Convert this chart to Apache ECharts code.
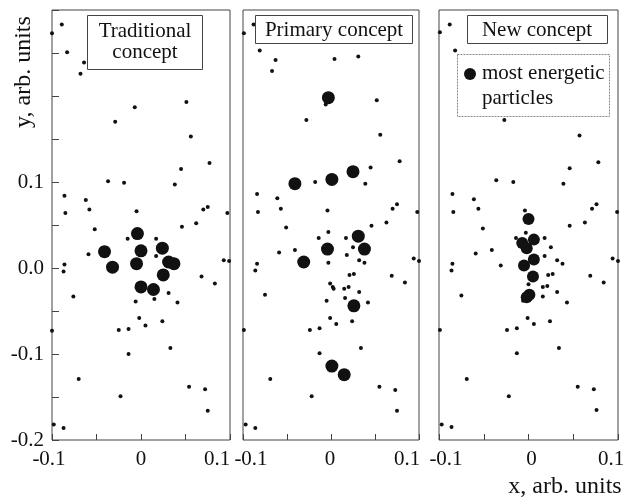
<!DOCTYPE html>
<html>
<head>
<meta charset="utf-8">
<script src="https://cdn.jsdelivr.net/npm/echarts@6/dist/echarts.min.js"></script>
<style>
  html, body { margin: 0; padding: 0; background: #fff; }
  #chart { width: 624px; height: 497px; }
</style>
</head>
<body>
<div id="chart"></div>
<script>
// Panel captions, legend text and axis text
const panelTitles = ['Traditional\nconcept', 'Primary concept', 'New concept'];
const legendLabel = 'most energetic\nparticles';
const xTickLabels = ['-0.1', '0', '0.1'];
const yTickLabels = ['-0.2', '-0.1', '0.0', '0.1'];
const xName = 'x, arb. units';
const yName = 'y, arb. units';

// Particle positions [x, y] — traditional concept
const tradSmall = [
  [-0.100,0.273],[-0.089,0.283],[-0.083,0.251],[-0.064,0.239],[-0.068,0.226],[-0.007,0.187],[0.051,0.193],
  [-0.029,0.170],[0.056,0.153],[0.077,0.122],[0.045,0.115],[-0.037,0.101],[-0.019,0.099],[0.038,0.097],
  [-0.086,0.084],[-0.062,0.079],[-0.085,0.064],[-0.058,0.068],[-0.005,0.066],[0.070,0.068],[0.075,0.071],
  [0.097,0.064],[-0.052,0.045],[0.046,0.048],[0.062,0.052],[-0.015,0.034],[0.017,0.034],[-0.059,0.016],
  [-0.086,0.004],[-0.087,-0.004],[0.017,0.014],[0.093,0.009],[0.099,0.008],[0.068,-0.010],[0.083,-0.018],
  [-0.076,-0.033],[0.031,-0.029],[0.041,-0.040],[0.015,-0.036],[-0.006,-0.039],[-0.002,-0.058],[0.005,-0.067],
  [0.024,-0.062],[-0.025,-0.072],[-0.014,-0.071],[-0.100,-0.073],[-0.014,-0.100],[0.033,-0.093],[-0.070,-0.129],
  [0.054,-0.138],[0.072,-0.141],[-0.023,-0.149],[0.075,-0.166],[-0.098,-0.182],[-0.087,-0.186]
];
const tradBig = [
  [-0.004,0.040],[-0.041,0.019],[0.000,0.020],[0.024,0.023],[-0.032,0.001],[-0.005,0.005],
  [0.031,0.007],[0.037,0.005],[0.025,-0.008],[0.000,-0.022],[0.014,-0.025]
];

// Primary concept
const primarySmall = [
  [-0.099,0.273],[-0.088,0.283],[-0.081,0.253],[-0.063,0.242],[-0.067,0.229],[0.004,0.243],[0.031,0.246],
  [-0.006,0.190],[0.052,0.195],[-0.028,0.172],[0.056,0.155],[0.078,0.124],[0.045,0.117],[-0.018,0.100],
  [0.039,0.098],[-0.084,0.086],[-0.061,0.081],[-0.083,0.065],[-0.057,0.069],[-0.004,0.067],[0.070,0.069],
  [0.075,0.074],[0.098,0.065],[-0.051,0.047],[0.046,0.049],[0.063,0.053],[-0.003,0.042],[-0.014,0.035],
  [0.017,0.035],[0.025,0.024],[-0.041,0.021],[-0.059,0.018],[-0.084,0.005],[-0.086,-0.003],[-0.003,0.006],
  [0.018,0.015],[0.032,0.009],[0.038,0.006],[0.094,0.011],[0.100,0.008],[0.069,-0.009],[0.084,-0.017],
  [0.021,-0.008],[0.026,-0.007],[-0.075,-0.031],[-0.001,-0.018],[0.002,-0.022],[0.003,-0.024],[0.015,-0.024],
  [0.020,-0.022],[0.032,-0.028],[0.016,-0.035],[-0.005,-0.038],[0.042,-0.040],[-0.001,-0.058],[0.006,-0.065],
  [0.024,-0.062],[-0.024,-0.072],[-0.013,-0.070],[-0.099,-0.072],[-0.013,-0.099],[0.034,-0.093],[-0.069,-0.129],
  [0.055,-0.138],[0.073,-0.142],[-0.022,-0.149],[0.075,-0.166],[-0.097,-0.182],[-0.086,-0.186]
];
const primaryBig = [
  [-0.003,0.198],[-0.041,0.098],[0.001,0.103],[0.025,0.112],[0.031,0.037],[-0.004,0.022],
  [0.038,0.022],[-0.031,0.007],[0.026,-0.044],[0.001,-0.114],[0.015,-0.124]
];

// New concept
const newSmall = [
  [-0.099,0.274],[-0.088,0.283],[-0.082,0.253],[-0.027,0.172],[0.057,0.154],[0.078,0.123],[0.046,0.116],
  [-0.036,0.102],[-0.017,0.100],[0.039,0.098],[-0.085,0.086],[-0.061,0.080],[-0.084,0.065],[-0.056,0.069],
  [-0.004,0.067],[0.071,0.069],[0.076,0.074],[0.099,0.065],[-0.051,0.046],[0.046,0.049],[0.063,0.053],
  [-0.003,0.041],[-0.014,0.035],[0.018,0.035],[0.025,0.024],[-0.041,0.021],[-0.059,0.017],[-0.085,0.005],
  [-0.086,-0.003],[-0.031,0.003],[0.018,0.014],[0.032,0.009],[0.038,0.005],[0.094,0.011],[0.100,0.008],
  [0.069,-0.009],[0.084,-0.017],[0.022,-0.008],[0.027,-0.007],[-0.075,-0.032],[0.000,-0.019],[0.016,-0.022],
  [0.021,-0.021],[0.032,-0.028],[0.016,-0.033],[-0.006,-0.038],[0.043,-0.040],[-0.001,-0.058],[0.006,-0.065],
  [0.024,-0.062],[-0.024,-0.072],[-0.013,-0.070],[-0.099,-0.072],[-0.013,-0.099],[0.034,-0.093],[-0.069,-0.129],
  [0.055,-0.138],[0.073,-0.141],[-0.022,-0.149],[0.076,-0.165],[-0.097,-0.182],[-0.086,-0.185]
];
const newBig = [
  [0.000,0.057],[-0.007,0.029],[0.006,0.033],[-0.002,0.023],[-0.005,0.003],[0.006,0.010],
  [0.005,-0.010],[0.001,-0.031],[-0.002,-0.034]
];

const FONT = '"Liberation Serif", "Times New Roman", serif';
const INK = '#111';
const FRAME = '#444';

const panels = [
  { grid: { left: 52, top: 10, width: 178, height: 430 }, small: tradSmall, big: tradBig, bigSize: 13, xShift: [-3, 0, -13] },
  { grid: { left: 243, top: 10, width: 176, height: 430 }, small: primarySmall, big: primaryBig, bigSize: 13, xShift: [8, -1, -12] },
  { grid: { left: 439, top: 10, width: 179, height: 430 }, small: newSmall, big: newBig, bigSize: 12, xShift: [7, 3, -7] }
];

function shiftPad(d) {
  return d >= 0 ? [0, 0, 0, 2 * d] : [0, -2 * d, 0, 0];
}

const grid = [], xAxis = [], yAxis = [], series = [];

panels.forEach((p, i) => {
  grid.push(Object.assign({
    show: true, borderColor: FRAME, borderWidth: 1, backgroundColor: 'transparent',
    containLabel: false, outerBoundsMode: 'none'
  }, p.grid));

  const rich = {};
  ['a', 'b', 'c'].forEach((k, j) => {
    rich[k] = { fontSize: 21, fontFamily: FONT, color: INK, padding: shiftPad(p.xShift[j]) };
  });

  xAxis.push({
    type: 'value', gridIndex: i, min: -0.1, max: 0.1, interval: 0.05,
    position: 'bottom',
    axisLine: { show: false, onZero: false },
    splitLine: { show: false },
    axisTick: { show: true, inside: true, length: 6, lineStyle: { color: FRAME } },
    axisLabel: {
      show: true, margin: 9, fontSize: 21, fontFamily: FONT, color: INK,
      showMinLabel: true, showMaxLabel: true, hideOverlap: false,
      rich,
      formatter: (v) => {
        const k = Math.round(v * 20);
        if (k % 2 !== 0) return '';
        const j = k / 2 + 1;
        return '{' + ['a', 'b', 'c'][j] + '|' + xTickLabels[j] + '}';
      }
    },
    name: i === 2 ? xName : '',
    nameLocation: 'middle',
    nameGap: 30,
    nameTextStyle: { fontSize: 24, fontFamily: FONT, color: INK, padding: [0, 0, 0, 73] }
  });

  yAxis.push({
    type: 'value', gridIndex: i, min: -0.2, max: 0.3, interval: 0.05,
    position: 'left',
    axisLine: { show: false, onZero: false },
    splitLine: { show: false },
    axisTick: { show: i === 0, inside: true, length: 7, lineStyle: { color: FRAME } },
    axisLabel: {
      show: i === 0, margin: 8, fontSize: 21, fontFamily: FONT, color: INK,
      showMinLabel: true, showMaxLabel: true,
      formatter: (v) => {
        const k = Math.round(v * 20);
        if (k % 2 !== 0) return '';
        const j = k / 2 + 2;
        return (j >= 0 && j < yTickLabels.length) ? yTickLabels[j] : '';
      }
    }
  });

  series.push({
    type: 'scatter', xAxisIndex: i, yAxisIndex: i, data: p.small,
    symbol: 'circle', symbolSize: 4, itemStyle: { color: INK, opacity: 1 }, silent: true, clip: false, z: 2
  });
  series.push({
    name: 'most energetic particles',
    type: 'scatter', xAxisIndex: i, yAxisIndex: i, data: p.big,
    symbol: 'circle', symbolSize: p.bigSize, itemStyle: { color: INK, opacity: 1 }, silent: true, clip: false, z: 3
  });
});

// Caption boxes, the marker key and the vertical axis title
const boxText = { fontSize: 21, fontFamily: FONT, fill: INK, align: 'center', verticalAlign: 'middle', lineHeight: 21 };
const graphic = [
  { type: 'rect', shape: { x: 87.5, y: 15.5, width: 115, height: 54 }, style: { fill: '#fff', stroke: FRAME, lineWidth: 1 }, z: 100 },
  { type: 'text', x: 145, y: 42, style: Object.assign({ text: panelTitles[0] }, boxText), z: 101 },
  { type: 'rect', shape: { x: 255.5, y: 15.5, width: 157, height: 28 }, style: { fill: '#fff', stroke: FRAME, lineWidth: 1 }, z: 100 },
  { type: 'text', x: 334, y: 30, style: Object.assign({ text: panelTitles[1] }, boxText), z: 101 },
  { type: 'rect', shape: { x: 467.5, y: 15.5, width: 140, height: 28 }, style: { fill: '#fff', stroke: FRAME, lineWidth: 1 }, z: 100 },
  { type: 'text', x: 537, y: 30, style: Object.assign({ text: panelTitles[2] }, boxText), z: 101 },
  { type: 'rect', shape: { x: 457.5, y: 54.5, width: 152, height: 62 }, style: { fill: '#fff', stroke: '#888', lineWidth: 1, lineDash: [2, 1] }, z: 100 },
  { type: 'circle', shape: { cx: 470, cy: 74, r: 6 }, style: { fill: INK }, z: 101 },
  { type: 'text', x: 482, y: 86, style: { text: legendLabel, fontSize: 21, fontFamily: FONT, fill: INK, align: 'left', verticalAlign: 'middle', lineHeight: 25 }, z: 101 },
  { type: 'text', x: 24, y: 72, rotation: Math.PI / 2, style: { text: yName, fontSize: 24, fontFamily: FONT, fill: INK, align: 'center', verticalAlign: 'middle' }, z: 101 }
];

const chart = echarts.init(document.getElementById('chart'), null, { renderer: 'canvas' });
chart.setOption({
  animation: false,
  backgroundColor: '#fff',
  grid, xAxis, yAxis, series, graphic
});
</script>
</body>
</html>
